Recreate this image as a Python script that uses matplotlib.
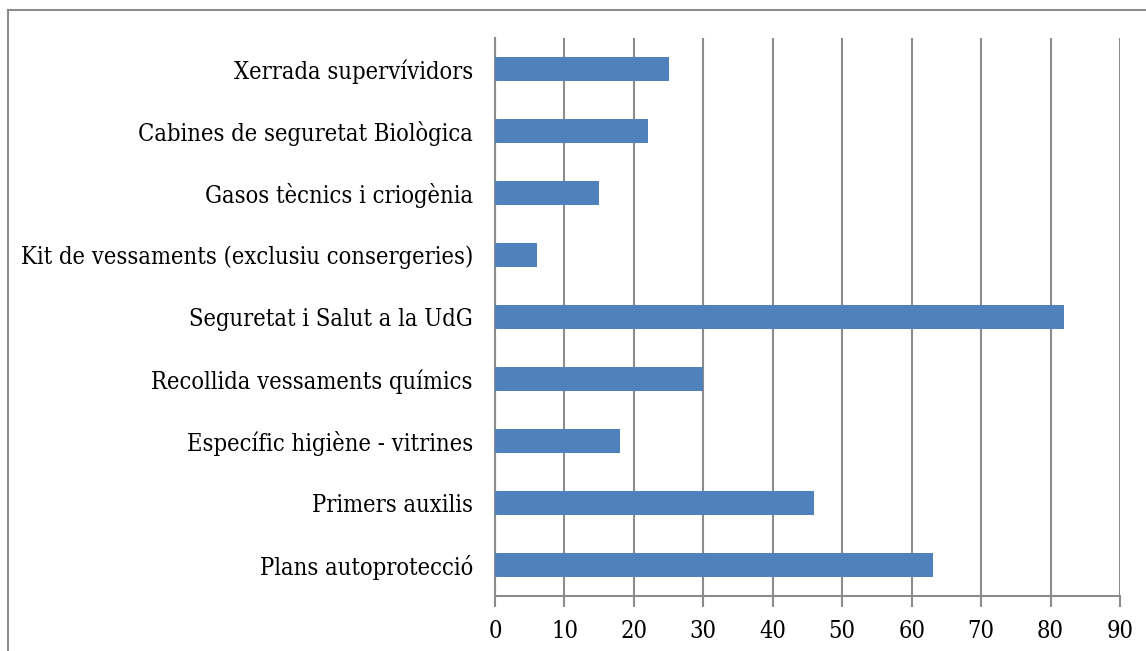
import matplotlib
matplotlib.use("Agg")
import matplotlib.pyplot as plt
from matplotlib.lines import Line2D

categories = [
    "Plans autoprotecció",
    "Primers auxilis",
    "Específic higiène - vitrines",
    "Recollida vessaments químics",
    "Seguretat i Salut a la UdG",
    "Kit de vessaments (exclusiu consergeries)",
    "Gasos tècnics i criogènia",
    "Cabines de seguretat Biològica",
    "Xerrada supervívidors",
]
values = [63, 46, 18, 30, 82, 6, 15, 22, 25]
xticks = [0, 10, 20, 30, 40, 50, 60, 70, 80, 90]

W, H = 1146, 651
fig = plt.figure(figsize=(W / 100, H / 100), dpi=100)
fig.patch.set_facecolor("white")
ax = fig.add_axes([495 / W, 1 - 596 / H, (1120 - 495) / W, (596 - 38) / H])

grid_c = "#8c8c8c"
ypos = list(range(len(categories)))
ax.barh(ypos, values, height=0.39, color="#4F81BD", zorder=3)
ax.set_xlim(0, 90)
ax.set_ylim(-0.5, len(categories) - 0.5)
ax.set_xticks(xticks)
ax.set_xticklabels([str(t) for t in xticks])
ax.set_yticks(ypos)
ax.set_yticklabels(categories)
ax.xaxis.grid(True, color=grid_c, linewidth=1.5, zorder=0)
ax.set_axisbelow(True)
for s in ["top", "right"]:
    ax.spines[s].set_visible(False)
for s in ["left", "bottom"]:
    ax.spines[s].set_color(grid_c)
    ax.spines[s].set_linewidth(1.5)
ax.tick_params(axis="x", direction="out", length=8, width=1.5, color=grid_c,
               pad=9)
ax.tick_params(axis="y", length=0, pad=16)
for lab in ax.get_xticklabels() + ax.get_yticklabels():
    lab.set_fontfamily("DejaVu Serif")
    lab.set_fontstretch("condensed")
    lab.set_fontsize(17)
    lab.set_color("black")

# outer border (top and left visible)
fig.add_artist(Line2D([8 / W, 1.0], [1 - 10 / H, 1 - 10 / H], color=grid_c,
                      linewidth=1.5, transform=fig.transFigure))
fig.add_artist(Line2D([8 / W, 8 / W], [1 - 10 / H, 0.0], color=grid_c,
                      linewidth=1.5, transform=fig.transFigure))

fig.savefig("out.png", dpi=100)
